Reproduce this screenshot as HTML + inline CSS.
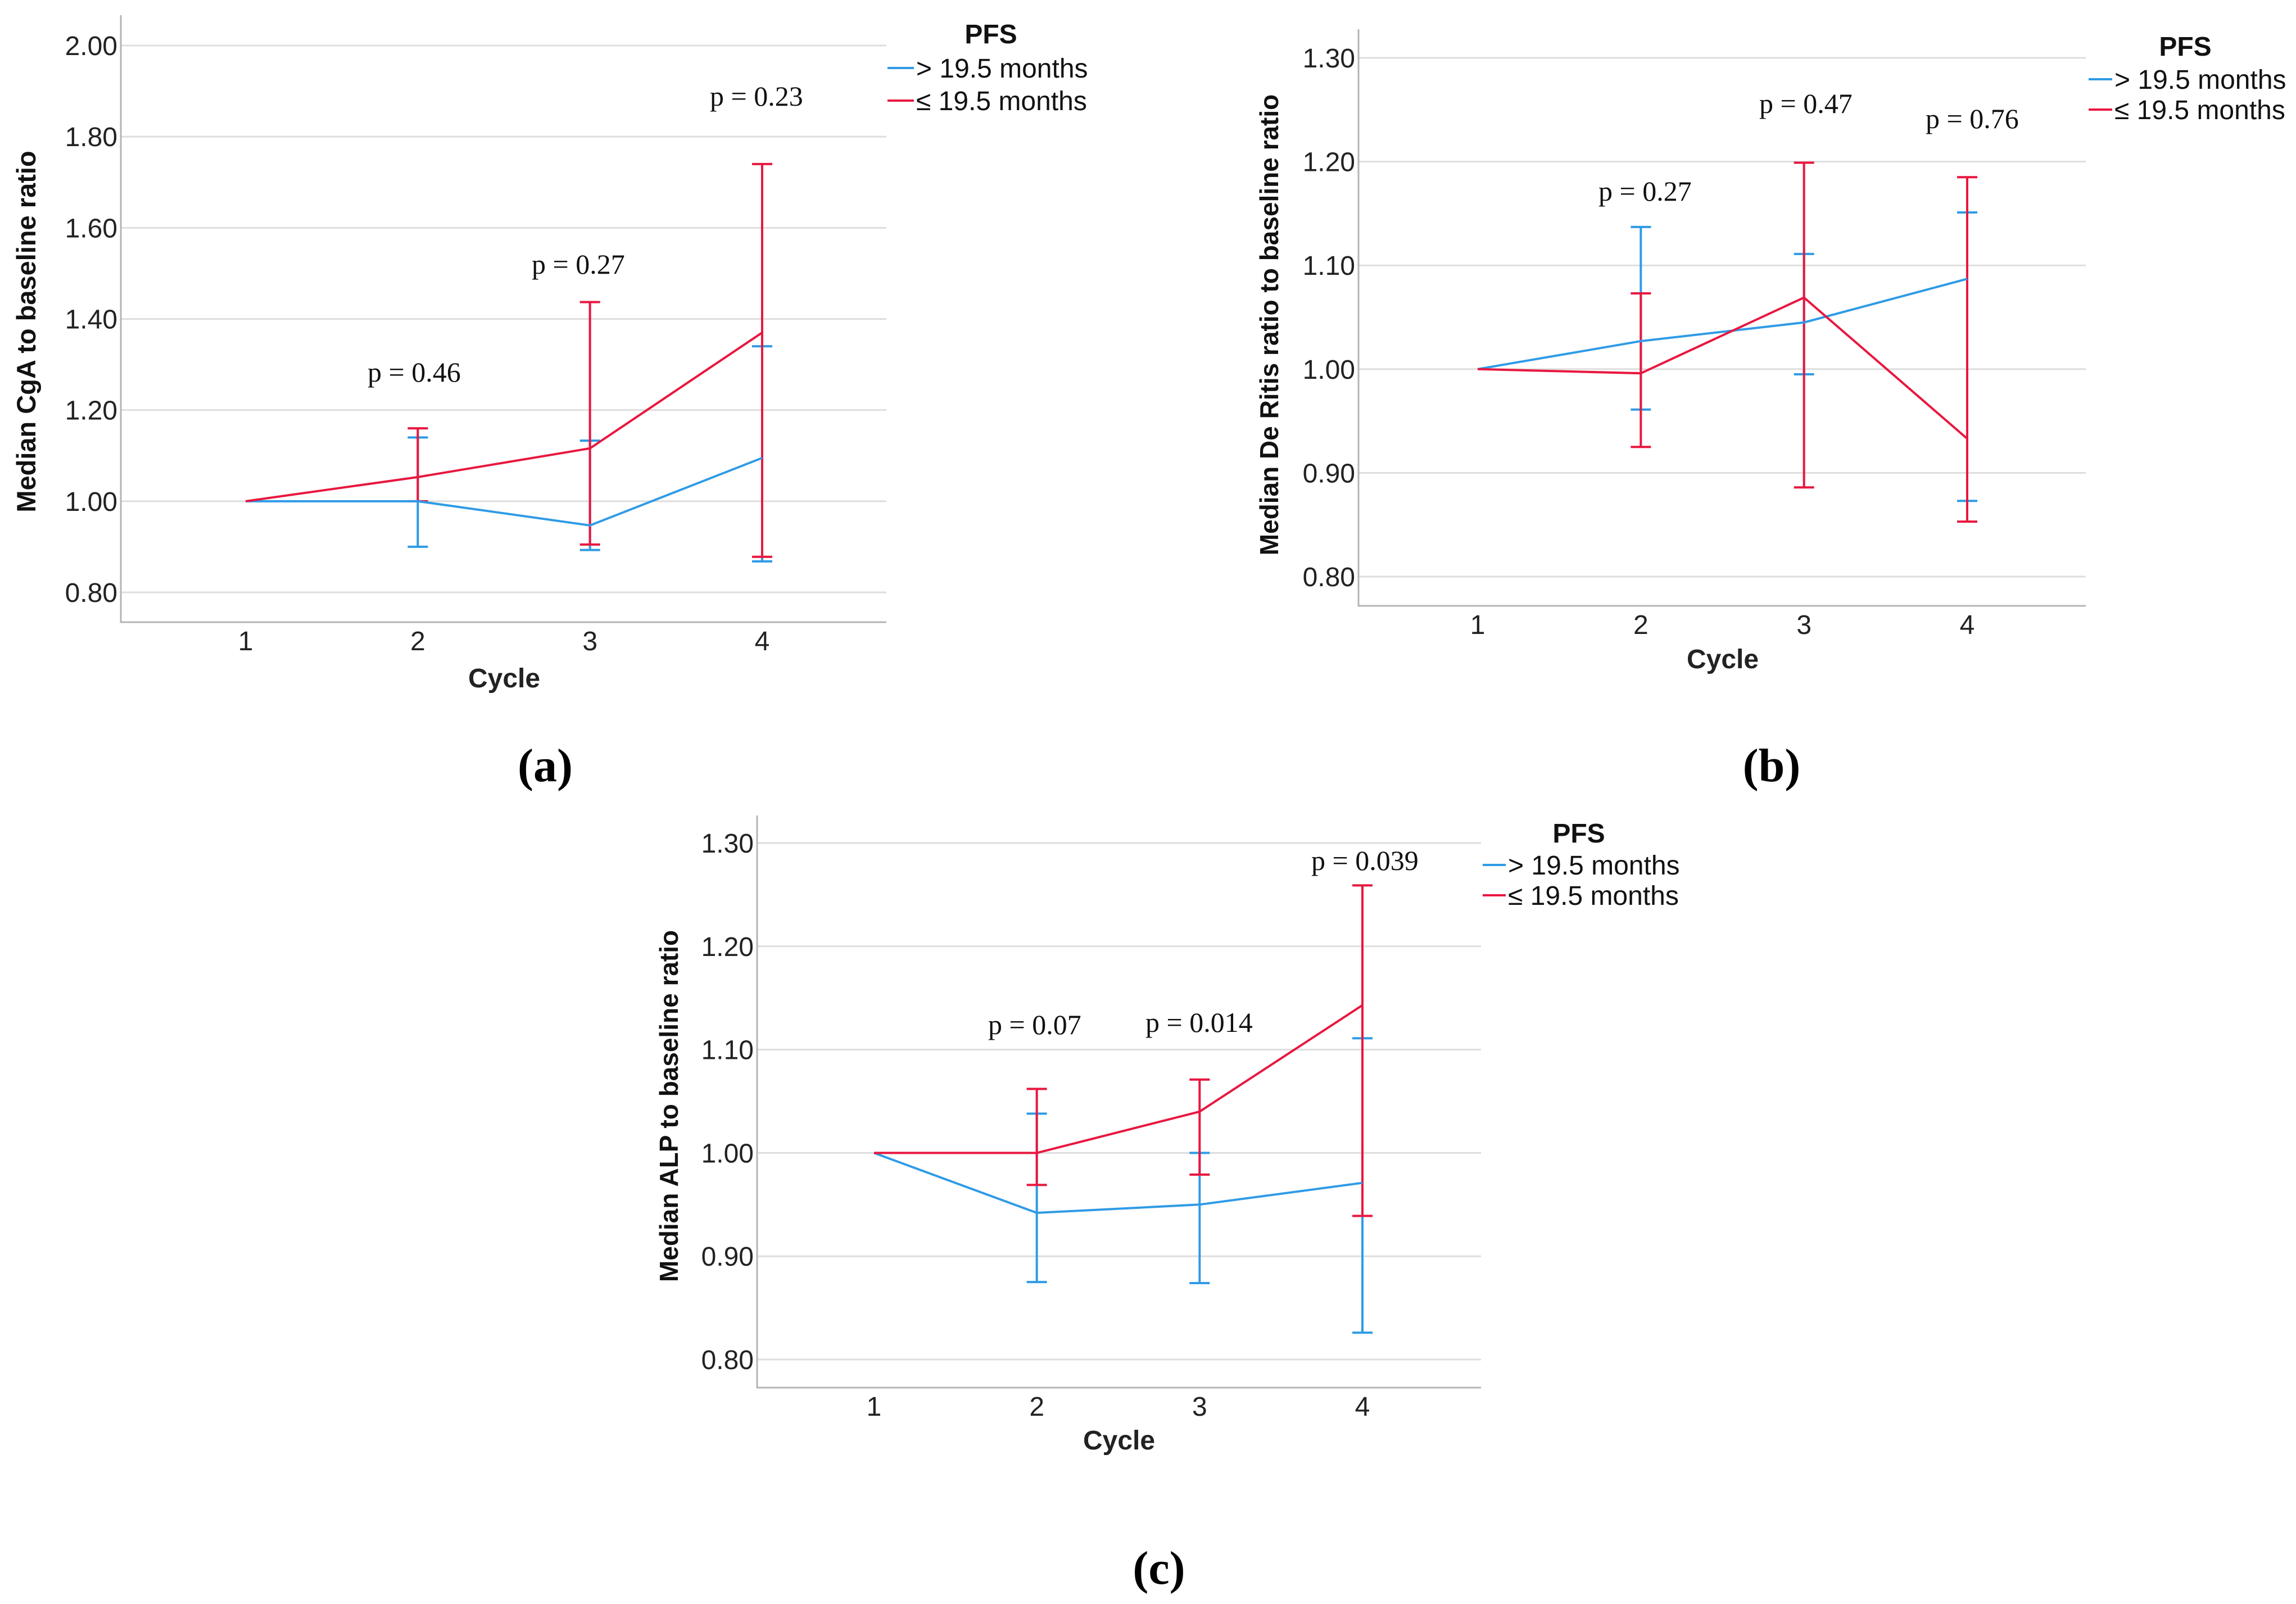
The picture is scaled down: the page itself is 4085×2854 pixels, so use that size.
<!DOCTYPE html>
<html><head><meta charset="utf-8"><style>
html,body{margin:0;padding:0;background:#fff}
svg{display:block}
text{font-family:"Liberation Sans",Arial,sans-serif}
.serif{font-family:"Liberation Serif","Times New Roman",serif}
</style></head><body>
<svg id="fig" xmlns="http://www.w3.org/2000/svg" width="4085" height="2854" viewBox="0 0 4085 2854"></svg>
<script>
const categories = [1, 2, 3, 4];
// Panel a: CgA
const aTicks = ["0.80","1.00","1.20","1.40","1.60","1.80","2.00"];
const aBlue = [1.00, 1.00, 0.947, 1.095];
const aBlueLo = [null, 0.90, 0.893, 0.868];
const aBlueHi = [null, 1.14, 1.133, 1.34];
const aRed = [1.00, 1.053, 1.116, 1.37];
const aRedLo = [null, 1.00, 0.905, 0.878];
const aRedHi = [null, 1.16, 1.437, 1.74];
const aP = ["p = 0.46", "p = 0.27", "p = 0.23"];
// Panel b: De Ritis
const bTicks = ["0.80","0.90","1.00","1.10","1.20","1.30"];
const bBlue = [1.00, 1.027, 1.045, 1.087];
const bBlueLo = [null, 0.961, 0.995, 0.873];
const bBlueHi = [null, 1.137, 1.111, 1.151];
const bRed = [1.00, 0.996, 1.069, 0.933];
const bRedLo = [null, 0.925, 0.886, 0.853];
const bRedHi = [null, 1.073, 1.199, 1.185];
const bP = ["p = 0.27", "p = 0.47", "p = 0.76"];
// Panel c: ALP
const cTicks = ["0.80","0.90","1.00","1.10","1.20","1.30"];
const cBlue = [1.00, 0.942, 0.950, 0.971];
const cBlueLo = [null, 0.875, 0.874, 0.826];
const cBlueHi = [null, 1.038, 1.00, 1.111];
const cRed = [1.00, 1.00, 1.04, 1.143];
const cRedLo = [null, 0.969, 0.979, 0.939];
const cRedHi = [null, 1.062, 1.071, 1.259];
const cP = ["p = 0.07", "p = 0.014", "p = 0.039"];
const legendLabels = ["> 19.5 months", "\u2264 19.5 months"];

const NS = "http://www.w3.org/2000/svg";
const svg = document.getElementById("fig");
const BLUE = "#2f9be6", RED = "#e8173f";
function mk(tag, attrs, parent, txt){
  const e = document.createElementNS(NS, tag);
  for (const k in attrs) e.setAttribute(k, attrs[k]);
  if (txt !== undefined) e.textContent = txt;
  (parent || svg).appendChild(e);
  return e;
}

function panel(cfg){
  const g = mk("g", {});
  
  
  const yv0 = parseFloat(cfg.ticks[0]), yv1 = parseFloat(cfg.ticks[cfg.ticks.length-1]);
  const yS = v => cfg.gy0 + (v - yv0) / (yv1 - yv0) * (cfg.gy1 - cfg.gy0);
  const xS = i => cfg.x1 + (categories[i] - 1) / 3 * (cfg.x4 - cfg.x1);
  cfg.ticks.forEach(t => {
    const y = yS(parseFloat(t));
    const gl = mk("line", {x1: cfg.L, x2: cfg.R, y1: y, y2: y, stroke: "#dedede", "stroke-width": 3}, g);
    
    
    const tl = mk("text", {x: cfg.L - 6, y: y + 17, "text-anchor": "end", "font-size": 48, fill: "#222"}, g, t);
    
    
  });
  const ax = mk("path", {d: `M${cfg.L},${cfg.T} V${cfg.B} H${cfg.R}`, fill: "none", stroke: "#b5b5b5", "stroke-width": 3}, g);
  
  
  categories.forEach((c, i) => {
    const xl = mk("text", {x: xS(i), y: cfg.B + 50, "text-anchor": "middle", "font-size": 48, fill: "#222"}, g, String(c));
    
    
  });
  const xt = mk("text", {x: cfg.cycX, y: cfg.cycY + 17, "text-anchor": "middle", "font-size": 48, "font-weight": "bold", fill: "#222"}, g, "Cycle");
  
  
  const yt = mk("text", {x: 0, y: 0, transform: `translate(${cfg.ytX + 16},${cfg.ytY}) rotate(-90)`, "text-anchor": "middle", "font-size": cfg.ytSize, "font-weight": "bold", fill: "#111"}, g, cfg.ytitle);
  
  
  const series = [
    {vals: cfg.blue, lo: cfg.blueLo, hi: cfg.blueHi, col: BLUE, n: "blue"},
    {vals: cfg.red, lo: cfg.redLo, hi: cfg.redHi, col: RED, n: "red"}
  ];
  series.forEach(s => {
    s.lo.forEach((lo, i) => {
      if (lo === null) return;
      const x = xS(i), y1 = yS(lo), y2 = yS(s.hi[i]);
      const eb = mk("path", {d: `M${x},${y1} V${y2} M${x-18},${y1} H${x+18} M${x-18},${y2} H${x+18}`, stroke: s.col, "stroke-width": 4, fill: "none"}, g);
      
      
    });
  });
  series.forEach(s => {
    const pts = s.vals.map((v, i) => xS(i) + "," + yS(v)).join(" ");
    const pl = mk("polyline", {points: pts, fill: "none", stroke: s.col, "stroke-width": 4}, g);
    
    
  });
  cfg.p.forEach((p, i) => {
    const pt = mk("text", {x: cfg.pPos[i][0], y: cfg.pPos[i][1], "font-size": 50, fill: "#111", class: "serif"}, g, p);
    
    
  });
  const lg = mk("g", {}, g);
  
  
  const lt = mk("text", {x: cfg.legX, y: cfg.legY + 17, "text-anchor": "middle", "font-size": 48, "font-weight": "bold", fill: "#111"}, lg, "PFS");
  
  
  [BLUE, RED].forEach((col, k) => {
    const y = cfg.legL[2 + k];
    const ll = mk("line", {x1: cfg.legL[0], x2: cfg.legL[1], y1: y, y2: y, stroke: col, "stroke-width": 4}, lg);
    
    
    const le = mk("text", {x: cfg.legL[1] + 4, y: y + 17, "font-size": 48, fill: "#111"}, lg, legendLabels[k]);
    
    
  });
  const cap = mk("text", {x: cfg.capX, y: cfg.capY + 28, "text-anchor": "middle", "font-size": 84, "font-weight": "bold", fill: "#000", class: "serif"}, g, cfg.cap);
  
  
}

panel({name: "panel-a-cga", ticks: aTicks, gy0: 1054, gy1: 81, L: 215, R: 1577, T: 27, B: 1107,
  x1: 437, x4: 1356, blue: aBlue, blueLo: aBlueLo, blueHi: aBlueHi, red: aRed, redLo: aRedLo, redHi: aRedHi,
  p: aP, pPos: [[654, 679], [946, 487], [1263, 188]], cycX: 897, cycY: 1206,
  ytitle: "Median CgA to baseline ratio", ytX: 47, ytY: 590, ytSize: 47,
  legX: 1763, legY: 60, legL: [1579, 1626, 121, 179], cap: "(a)", capX: 970, capY: 1362});
panel({name: "panel-b-de-ritis", ticks: bTicks, gy0: 1026, gy1: 103, L: 2417, R: 3711, T: 52, B: 1078,
  x1: 2629, x4: 3500, blue: bBlue, blueLo: bBlueLo, blueHi: bBlueHi, red: bRed, redLo: bRedLo, redHi: bRedHi,
  p: bP, pPos: [[2844, 357], [3130, 201], [3426, 228]], cycX: 3065, cycY: 1172,
  ytitle: "Median De Ritis ratio to baseline ratio", ytX: 2258, ytY: 578, ytSize: 46,
  legX: 3888, legY: 82, legL: [3716, 3758, 141, 195], cap: "(b)", capX: 3152, capY: 1362});
panel({name: "panel-c-alp", ticks: cTicks, gy0: 2419, gy1: 1500, L: 1347, R: 2635, T: 1451, B: 2469,
  x1: 1555, x4: 2424, blue: cBlue, blueLo: cBlueLo, blueHi: cBlueHi, red: cRed, redLo: cRedLo, redHi: cRedHi,
  p: cP, pPos: [[1758, 1840], [2038, 1836], [2333, 1548]], cycX: 1991, cycY: 2562,
  ytitle: "Median ALP to baseline ratio", ytX: 1190, ytY: 1968, ytSize: 46,
  legX: 2809, legY: 1482, legL: [2638, 2679, 1539, 1593], cap: "(c)", capX: 2062, capY: 2790});
</script>
</body></html>
